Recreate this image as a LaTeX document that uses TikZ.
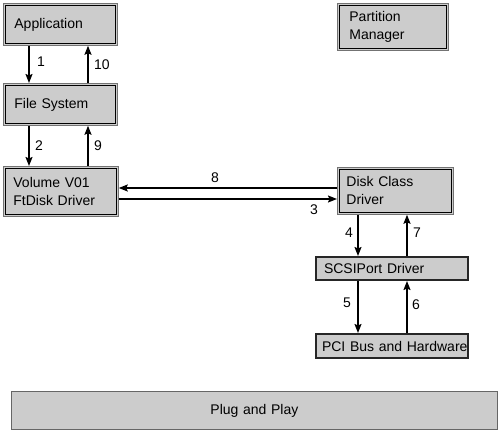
\documentclass[tikz,border=0pt]{standalone}
\usepackage{fontspec}
\setmainfont{Liberation Sans}
\usetikzlibrary{arrows.meta,positioning}
\definecolor{boxfill}{HTML}{CCCCCC}
\tikzset{
  base/.style={rectangle, fill=boxfill, anchor=north west, align=left,
    font=\fontsize{14}{18}\selectfont, inner ysep=0pt},
  dbox/.style={base, draw=black!55, line width=0.8pt},
  tbox/.style={base, draw=black!85, line width=2pt},
  pbox/.style={base, draw=black!60, line width=0.8pt, align=center},
  inner/.style={draw=black, line width=1.2pt},
  arr/.style={line width=1.5pt, -{Stealth[length=9pt,width=7pt,inset=1.5pt]}},
  lbl/.style={font=\fontsize{14}{17}\selectfont, inner sep=0pt}
}
\begin{document}
\begin{tikzpicture}[x=1pt,y=-1pt]
\useasboundingbox (0,0) rectangle (500,430);
% boxes
\node[dbox, minimum width=114pt, minimum height=42pt, text width=92pt, inner xsep=11pt] (app) at (3,3) {Application};
\node[dbox, minimum width=114pt, minimum height=42pt, text width=92pt, inner xsep=11pt] (fs) at (3,83) {File System};
\node[dbox, minimum width=115pt, minimum height=50pt, text width=95pt, inner xsep=10pt] (vol) at (3,166) {Volume V01\\FtDisk Driver};
\node[dbox, minimum width=111pt, minimum height=47pt, text width=87pt, inner xsep=12pt] (part) at (337,3) {Partition\\Manager};
\node[dbox, minimum width=116pt, minimum height=47pt, text width=98pt, inner xsep=9pt] (disk) at (337,167) {Disk Class\\Driver};
\node[tbox, minimum width=152pt, minimum height=23pt, text width=136pt, inner xsep=8pt] (scsi) at (315,256) {SCSIPort Driver};
\node[tbox, minimum width=152pt, minimum height=24pt, text width=140pt, inner xsep=6pt] (pci) at (315,333) {\mbox{PCI Bus and Hardware}};
\node[pbox, minimum width=486pt, minimum height=38pt, text width=470pt, inner xsep=8pt] (pnp) at (11,391) {Plug and Play};
% inner borders of double boxes
\foreach \n in {app,fs,vol,part,disk}{
  \draw[inner] ([shift={(2.5pt,-2.5pt)}]\n.north west) rectangle ([shift={(-2.5pt,2.5pt)}]\n.south east);
}
% connectors
\draw[arr] ([xshift=26pt]app.south west) -- ([xshift=26pt]fs.north west);
\draw[arr] ([xshift=85pt]fs.north west) -- ([xshift=85pt]app.south west);
\draw[arr] ([xshift=26pt]fs.south west) -- ([xshift=26pt]vol.north west);
\draw[arr] ([xshift=85pt]vol.north west) -- ([xshift=85pt]fs.south west);
\draw[arr] ([yshift=-21pt]disk.north west) -- ([yshift=-22pt]vol.north east);
\draw[arr] ([yshift=-33pt]vol.north east) -- ([yshift=-32pt]disk.north west);
\draw[arr] ([xshift=21pt]disk.south west) -- ([xshift=43pt]scsi.north west);
\draw[arr] ([xshift=92pt]scsi.north west) -- ([xshift=70pt]disk.south west);
\draw[arr] ([xshift=43pt]scsi.south west) -- ([xshift=43pt]pci.north west);
\draw[arr] ([xshift=92pt]pci.north west) -- ([xshift=92pt]scsi.south west);
% labels
\node[lbl] (l1) at (41,62) {1};
\node[lbl] (l10) at (102,65) {10};
\node[lbl] (l2) at (39,146) {2};
\node[lbl] (l9) at (98,146) {9};
\node[lbl] (l8) at (215,178) {8};
\node[lbl] (l3) at (314,210) {3};
\node[lbl] (l4) at (349,233) {4};
\node[lbl] (l7) at (417,233) {7};
\node[lbl] (l5) at (347,303) {5};
\node[lbl] (l6) at (416,305) {6};
\end{tikzpicture}
\end{document}
